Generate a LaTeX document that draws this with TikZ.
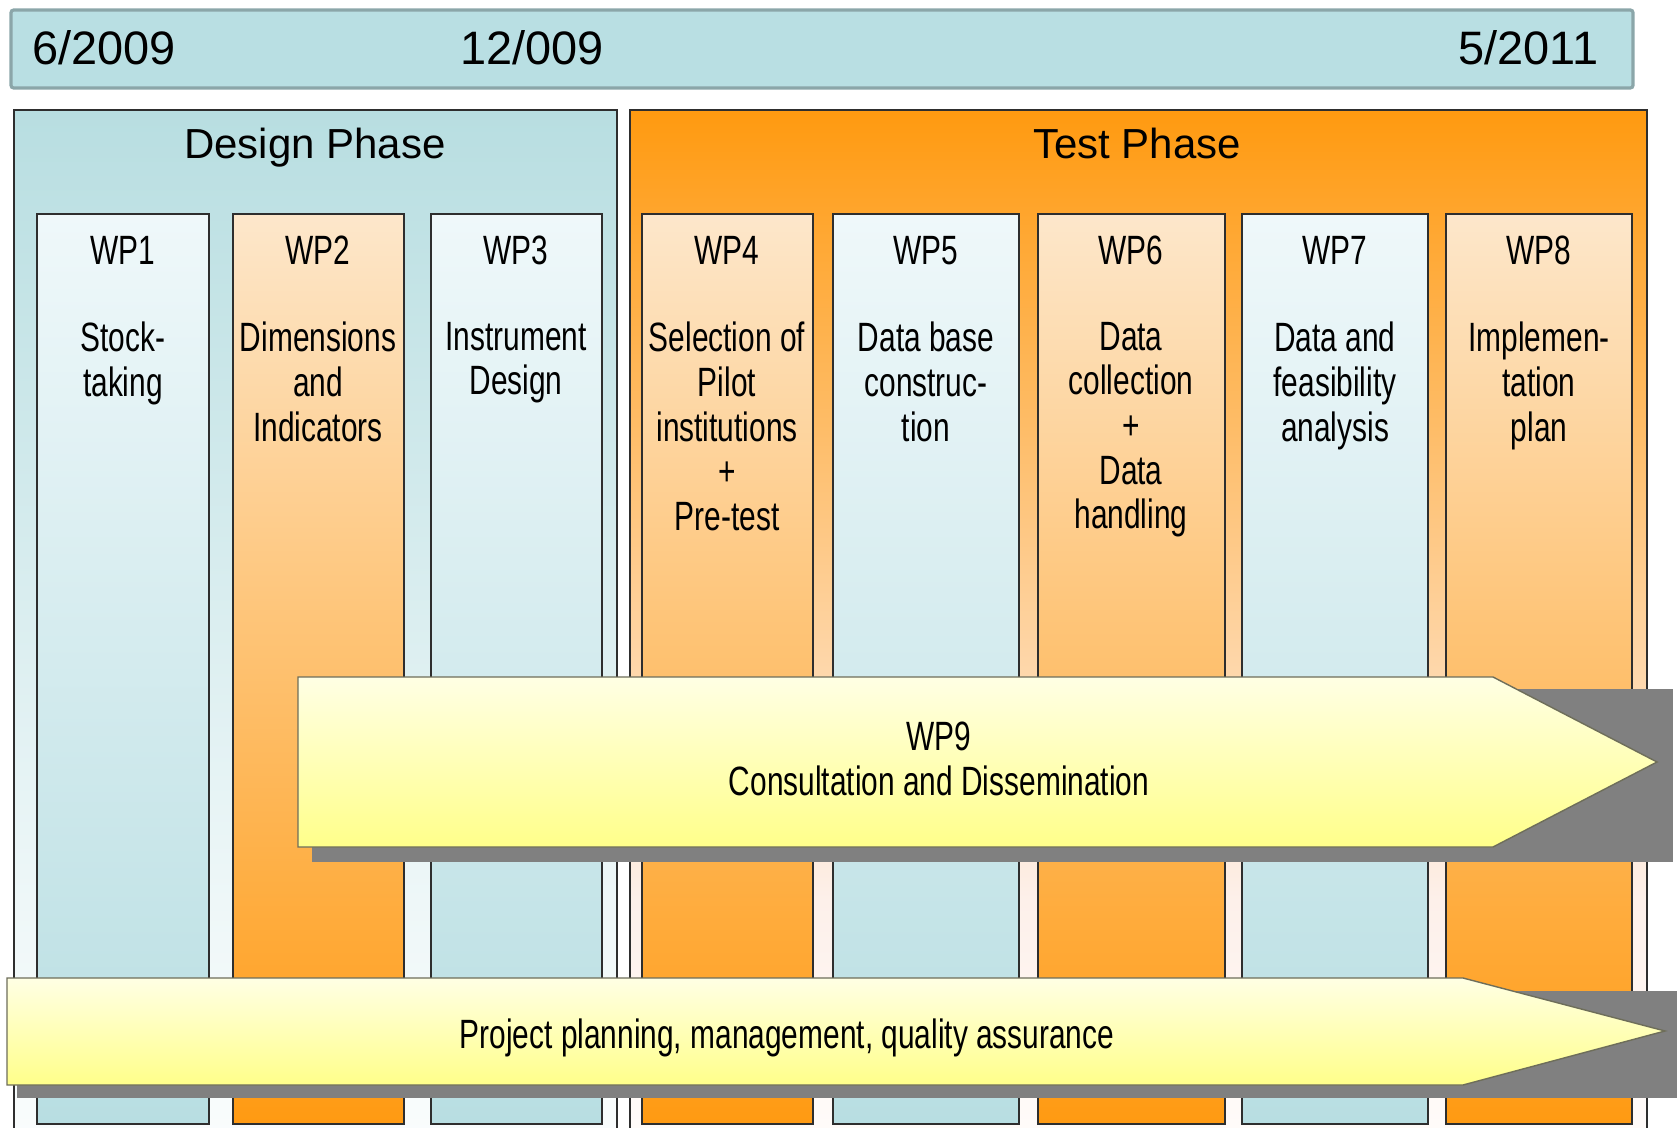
\documentclass[tikz,border=0pt]{standalone}
\usepackage{fontspec}
\setmainfont{Liberation Sans}
\newfontfamily\narrowfont[FakeStretch=0.73]{Liberation Sans}
\definecolor{barfill}{HTML}{B9DFE3}
\definecolor{barline}{HTML}{8BA6A9}
\definecolor{boxline}{HTML}{2E2E2E}
\definecolor{desTop}{HTML}{B8DEE1}
\definecolor{desMid}{HTML}{EEF7F8}
\definecolor{desBot}{HTML}{FAFDFD}
\definecolor{tstTop}{HTML}{FF9A10}
\definecolor{tstMid}{HTML}{FDF0EA}
\definecolor{tstBot}{HTML}{FFFCFB}
\definecolor{wbTop}{HTML}{EFF8FA}
\definecolor{wbBot}{HTML}{B8DEE2}
\definecolor{woTop}{HTML}{FDE7CB}
\definecolor{woBot}{HTML}{FF9A12}
\definecolor{arTop}{HTML}{FFFFE4}
\definecolor{arBot}{HTML}{FFFF8A}
\definecolor{shadowgray}{HTML}{808080}
\definecolor{arline}{HTML}{6E6E5A}
\tikzset{
  phasebox/.style={draw=boxline, line width=0.9pt},
  wpblue/.style={draw=boxline, line width=1.1pt, top color=wbTop, bottom color=wbBot},
  wporange/.style={draw=boxline, line width=1.1pt, top color=woTop, bottom color=woBot},
  shadowbox/.style={fill=shadowgray},
  arrowbox/.style={draw=arline, line width=0.8pt, top color=arTop, bottom color=arBot},
  datetext/.style={font=\fontsize{26.7pt}{30pt}\selectfont, inner sep=0pt, anchor=base west},
  phasetext/.style={font=\fontsize{23.9pt}{28pt}\selectfont, inner sep=0pt, anchor=base},
  wplabel/.style={font=\narrowfont\fontsize{23.3pt}{25.4pt}\selectfont, inner sep=0pt, anchor=base},
  wpbody/.style={font=\narrowfont\fontsize{23.3pt}{25.4pt}\selectfont, align=center, inner sep=0pt, anchor=north, execute at begin node=\strut},
}
\begin{document}
\begin{tikzpicture}[x=0.02cm, y=-0.02cm]
\useasboundingbox (0,0) rectangle (1677,1128);
\clip (0,0) rectangle (1677,1128);
\fill[white] (0,0) rectangle (1677,1128);

% date bar
\path[fill=barfill, draw=barline, line width=1.8pt, rounded corners=1.5pt] (11,10) rectangle (1633,88);
\node[datetext] (d1) at (32,65) {6/2009};
\node[datetext] (d2) at (460,65) {12/009};
\node[datetext, anchor=base east] (d3) at (1599,65) {5/2011};

% phases
\path[top color=desTop, bottom color=desMid] (14,110) rectangle (617,900);
\path[top color=desMid, bottom color=desBot] (14,900) rectangle (617,1150);
\draw[phasebox] (14,110) rectangle (617,1150);
\path[top color=tstTop, bottom color=tstMid] (630,110) rectangle (1647,900);
\path[top color=tstMid, bottom color=tstBot] (630,900) rectangle (1647,1150);
\draw[phasebox] (630,110) rectangle (1647,1150);
\node[phasetext] (design) at (315,159) {Design Phase};
\node[phasetext] (test) at (1137,159) {Test Phase};

% work packages
\path[wpblue]   (37,214)   rectangle (209,1124);
\path[wporange] (233,214)  rectangle (404,1124);
\path[wpblue]   (431,214)  rectangle (602,1124);
\path[wporange] (642,214)  rectangle (813,1124);
\path[wpblue]   (833,214)  rectangle (1019,1124);
\path[wporange] (1038,214) rectangle (1225,1124);
\path[wpblue]   (1242,214) rectangle (1428,1124);
\path[wporange] (1446,214) rectangle (1632,1124);

\node[wplabel] (wp1) at (123,265) {WP1};
\node[wplabel] (wp2) at (318,265) {WP2};
\node[wplabel] (wp3) at (516,265) {WP3};
\node[wplabel] (wp4) at (727,265) {WP4};
\node[wplabel] (wp5) at (926,265) {WP5};
\node[wplabel] (wp6) at (1131,265) {WP6};
\node[wplabel] (wp7) at (1335,265) {WP7};
\node[wplabel] (wp8) at (1539,265) {WP8};

\node[wpbody] (wp1t) at (123,321.75) {Stock-\\taking};
\node[wpbody] (wp2t) at (318,321.75) {Dimensions\\and\\Indicators};
\node[wpbody] (wp3t) at (516,321.75) {Instrument\\Design};
\node[wpbody] (wp4t) at (727,321.75) {Selection of\\Pilot\\institutions\\+\\Pre-test};
\node[wpbody] (wp5t) at (926,321.75) {Data base\\construc-\\tion};
\node[wpbody] (wp6t) at (1131,321.75) {Data\\collection\\+\\Data\\handling};
\node[wpbody] (wp7t) at (1335,321.75) {Data and\\feasibility\\analysis};
\node[wpbody] (wp8t) at (1539,321.75) {Implemen-\\tation\\plan};

% WP9 arrow
\path[shadowbox] (312,689) rectangle (1673,862);
\path[arrowbox] (298,677) -- (1493,677) -- (1657,762) -- (1493,847) -- (298,847) -- cycle;
\node[wpbody] (wp9) at (939,721.75) {WP9\\Consultation and Dissemination};

% management arrow
\path[shadowbox] (17,991) rectangle (1690,1098);
\path[arrowbox] (7,978) -- (1463,978) -- (1665,1031) -- (1463,1085) -- (7,1085) -- cycle;
\node[wplabel] (pm) at (787,1048) {Project planning, management, quality assurance};
\end{tikzpicture}
\end{document}
